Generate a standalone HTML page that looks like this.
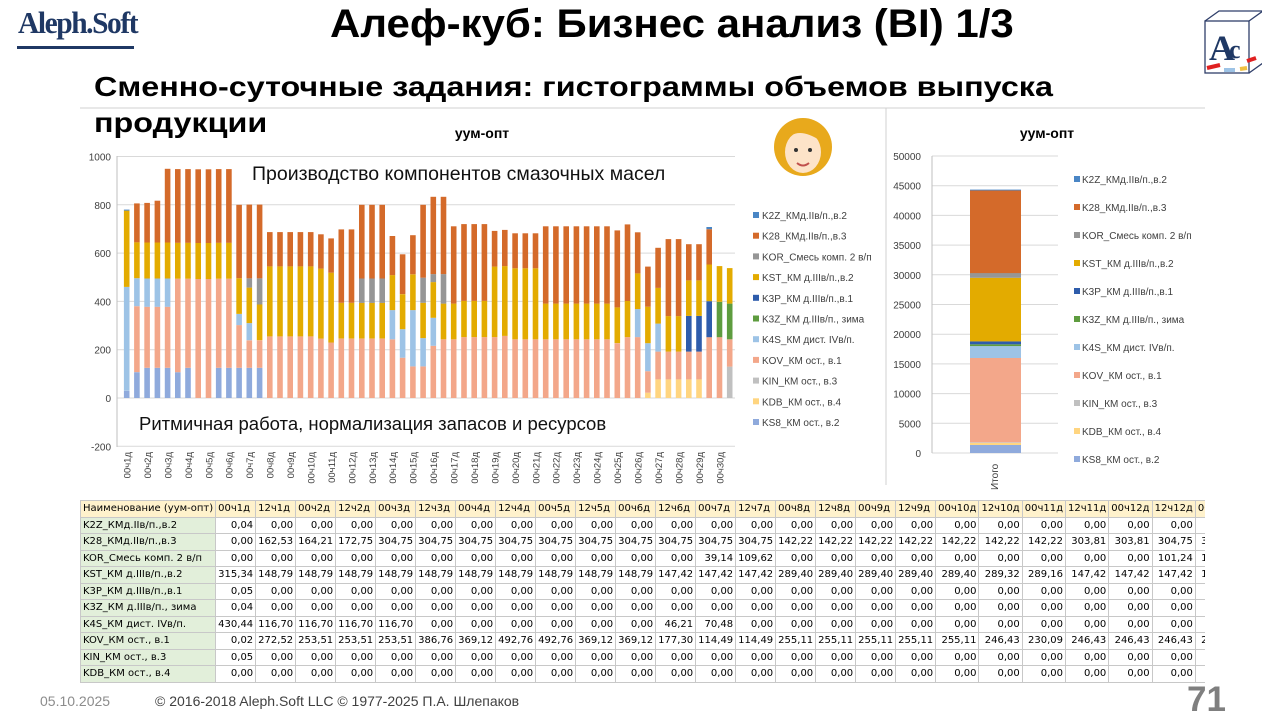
<!DOCTYPE html>
<html><head><meta charset="utf-8">
<style>
body{margin:0;width:1280px;height:720px;overflow:hidden;background:#fff;font-family:"Liberation Sans","DejaVu Sans",sans-serif;position:relative}
.abs{position:absolute;white-space:nowrap}
#tbl{position:absolute;left:80px;top:500px;width:1125px;height:186px;overflow:hidden}
table{border-collapse:collapse;font-family:"DejaVu Sans","Liberation Sans",sans-serif;font-size:10px;table-layout:fixed}
td{height:15.5px;padding:0 2px;border:1px solid #c8c8c8;text-align:right;overflow:hidden;white-space:nowrap;line-height:15px}
td.n{text-align:left;background:#e2efda;width:135px}
tr.h td{background:#fff2cc;text-align:left}
</style></head><body>
<div class="abs" style="left:18px;top:5px;font-family:'Liberation Serif',serif;font-size:31px;color:#1f3864;font-weight:bold;letter-spacing:-1.5px;transform:scaleX(0.95);transform-origin:left">Aleph.Soft</div>
<div class="abs" style="left:17px;top:46px;width:117px;height:3px;background:#1f3864"></div>
<div class="abs" style="left:330px;top:2px;font-size:40px;font-weight:bold;color:#000;transform:scaleX(1.05);transform-origin:left">Алеф-куб: Бизнес анализ (BI) 1/3</div>
<svg class="abs" style="left:1200px;top:8px" width="62" height="70">
<rect x="5" y="13" width="44" height="52" fill="none" stroke="#2f3f6a" stroke-width="1.3"/>
<path d="M5 13 L19 3 L63 3 L49 13 M49 65 L63 55 L63 3" fill="none" stroke="#2f3f6a" stroke-width="1.3"/>
<text x="9" y="52" font-family="Liberation Serif" font-size="36" font-weight="bold" fill="#1f3864">A</text>
<text x="29" y="50" font-family="Liberation Serif" font-size="26" font-weight="bold" fill="#1f3864">c</text>
<path d="M7 60 L20 57 M47 53 L56 50" stroke="#e02020" stroke-width="4"/>
<path d="M24 62 L35 62" stroke="#9dc3e6" stroke-width="4"/><path d="M40 61 L47 60" stroke="#f0c040" stroke-width="4"/>
</svg>
<div class="abs" style="left:94px;top:69px;font-size:28px;font-weight:bold;line-height:36px;color:#000;z-index:2;transform:scaleX(1.154);transform-origin:left">Сменно-суточные задания: гистограммы объемов выпуска<br>продукции</div>
<svg id="ch" class="abs" style="left:0;top:0" width="1280" height="500"></svg>
<div id="tbl"></div>
<div class="abs" style="left:40px;top:693px;font-size:14px;color:#8c8c8c">05.10.2025</div>
<div class="abs" style="left:155px;top:693px;font-size:14px;color:#404040">© 2016-2018 Aleph.Soft LLC © 1977-2025 П.А. Шлепаков</div>
<div class="abs" style="left:1187px;top:680px;font-size:35px;font-weight:bold;color:#7f7f7f">71</div>
<script>
var C=["#8faadc","#ffd580","#c0c0c0","#f3a78a","#9dc3e6","#5e9c3f","#2e5cab","#e3ab00","#969696","#d46a2a","#4a86c5"];
var NM=["KS8_КМ ост., в.2","KDB_КМ ост., в.4","KIN_КМ ост., в.3","KOV_КМ ост., в.1","K4S_КМ дист. IVв/п.","K3Z_КМ д.IIIв/п., зима","K3P_КМ д.IIIв/п.,в.1","KST_КМ д.IIIв/п.,в.2","KOR_Смесь комп. 2 в/п","K28_КМд.IIв/п.,в.3","K2Z_КМд.IIв/п.,в.2"];
var s='';
function R(x,y,w,h,c){s+='<rect x="'+x+'" y="'+y+'" width="'+w+'" height="'+h+'" fill="'+c+'"/>';}
function T(x,y,t,a,fs,ex){s+='<text x="'+x+'" y="'+y+'" font-size="'+fs+'" text-anchor="'+(a||'start')+'" '+(ex||'')+'>'+t+'</text>';}
s+='<line x1="80" y1="108" x2="1205" y2="108" stroke="#d0d0d0"/><line x1="886" y1="108" x2="886" y2="485" stroke="#d0d0d0"/>';
function Y(v){return 398-v*0.2415;}
for(var v=-200;v<=1000;v+=200){s+='<line x1="117" x2="735" y1="'+Y(v)+'" y2="'+Y(v)+'" stroke="#d9d9d9"/>';T(111,Y(v)+4,v,'end',10,'fill="#404040"');}
s+='<line x1="117" x2="117" y1="156" y2="447" stroke="#bfbfbf"/>';
T(482,138,'уум-опт','middle',14,'font-weight="bold"');
var A=[[0,30],[4,460],[7,776],[10,780]],B=[[0,107],[3,380],[4,496],[7,645],[9,806]];
var p1=[[0,125],[3,494],[7,643],[9,948]],p2=[[3,493],[7,642],[9,947]],p3=[[3,255],[7,545],[9,687]],p4=[[3,246],[7,394],[9,698]],p5=[[3,246],[7,394],[8,495],[9,800]],p6=[[3,252],[7,402],[9,720]],p7=[[3,243],[7,537],[9,682]],p8=[[3,243],[7,391],[9,711]],p9=[[1,77],[3,192],[7,339],[9,658]],p10=[[1,77],[3,192],[6,340],[7,487],[9,637]];
var D=[A,B,[[0,125],[3,378],[4,495],[7,644],[9,808]],[[0,125],[3,378],[4,495],[7,644],[9,817]],[[0,125],[3,378],[4,495],[7,644],[9,949]],[[0,107],[3,494],[7,643],[9,948]],p1,p2,p2,p1,p1,
[[0,125],[3,302],[4,348],[7,496],[9,800]],[[0,125],[3,239],[4,310],[7,457],[8,496],[9,801]],[[0,125],[3,239],[7,387],[8,496],[9,801]],
p3,p3,p3,p3,p3,[[3,246],[7,536],[9,678]],[[3,230],[7,519],[9,661]],p4,p4,p5,p5,p5,
[[3,243],[4,364],[7,509],[9,671]],[[3,167],[4,285],[7,430],[9,595]],[[3,131],[4,364],[7,512],[9,674]],[[3,131],[4,248],[7,394],[8,498],[9,800]],[[3,216],[4,332],[7,480],[8,513],[9,833]],[[3,243],[7,391],[8,513],[9,833]],p8,p6,p6,p6,
[[3,252],[7,544],[9,692]],[[3,257],[7,546],[9,696]],p7,p7,p7,p8,p8,p8,p8,p8,p8,p8,[[3,227],[7,375],[9,694]],[[3,252],[7,402],[9,719]],[[3,252],[4,368],[7,516],[9,686]],
[[1,22],[3,111],[4,227],[7,378],[9,544]],[[1,77],[3,192],[4,308],[7,456],[9,622]],p9,p9,p10,p10,[[3,252],[6,401],[7,553],[9,699],[10,708]],[[3,252],[5,398],[7,546]],[[2,130],[3,243],[5,391],[7,538]]];
for(var i=0;i<D.length;i++){var x=126.7+i*10.22-2.8,prev=0;for(var j=0;j<D[i].length;j++){var t=D[i][j][1];R(x.toFixed(1),Y(t).toFixed(1),5.6,((t-prev)*0.2415).toFixed(1),C[D[i][j][0]]);prev=t;}
 if(i%2==0){var d=i/2+1;s+='<text transform="translate('+(x+6.6)+',452) rotate(-90)" font-size="9.5" text-anchor="end" fill="#404040">00ч'+d+'д</text>';}}
T(252,180,'Производство компонентов смазочных масел','start',19.5,'fill="#111"');
T(139,430,'Ритмичная работа, нормализация запасов и ресурсов','start',18.5,'fill="#111"');
for(var k=0;k<11;k++){var yy=216+k*20.7;R(753,yy-4,6,6,C[10-k]);T(762,yy+3,NM[10-k],'start',10,'fill="#404040"');}
s+='<circle cx="803" cy="147" r="29" fill="#e8a91c"/><ellipse cx="803" cy="152" rx="18" ry="21" fill="#fde3c8"/><path d="M785 143 Q795 124 821 141 Q812 128 800 129 Q786 131 785 143Z" fill="#e8a91c"/><circle cx="796" cy="150" r="2" fill="#333"/><circle cx="810" cy="150" r="2" fill="#333"/><path d="M797 163 Q803 168 809 163" stroke="#c0504d" stroke-width="2" fill="none"/>';
function Y2(v){return 453-v*0.00594;}
T(1047,138,'уум-опт','middle',14,'font-weight="bold"');
for(var v=0;v<=50000;v+=5000){s+='<line x1="932" x2="1058" y1="'+Y2(v)+'" y2="'+Y2(v)+'" stroke="#d9d9d9"/>';T(921,Y2(v)+4,v,'end',10,'fill="#404040"');}
s+='<line x1="932" x2="932" y1="156" y2="453" stroke="#bfbfbf"/>';
var S2=[[0,1350],[1,1700],[2,1800],[3,16000],[4,18000],[5,18300],[6,18800],[7,29500],[8,30300],[9,44200],[10,44350]],pv=0;
for(var k=0;k<S2.length;k++){var t=S2[k][1];R(970,Y2(t).toFixed(1),51,((t-pv)*0.00594).toFixed(1),C[S2[k][0]]);pv=t;}
s+='<text transform="translate(998,490) rotate(-90)" font-size="10" fill="#404040">Итого</text>';
for(var k=0;k<11;k++){var yy=180+k*28;R(1074,yy-4,6,6,C[10-k]);T(1082,yy+3,NM[10-k],'start',10,'fill="#404040"');}
document.getElementById('ch').innerHTML=s;
var H=[];for(var d=1;d<=13;d++){H.push('00ч'+d+'д');if(d<13)H.push('12ч'+d+'д');}
function rep(v,n){var a=[];for(var i=0;i<n;i++)a.push(v);return a;}
var z=function(f){return [f].concat(rep('0,00',24));};
var rows=[["K2Z_КМд.IIв/п.,в.2",z('0,04')],
["K28_КМд.IIв/п.,в.3",['0,00','162,53','164,21','172,75'].concat(rep('304,75',10),rep('142,22',7),['303,81','303,81','304,75','304,75'])],
["KOR_Смесь комп. 2 в/п",rep('0,00',12).concat(['39,14','109,62'],rep('0,00',9),['101,24','101,24'])],
["KST_КМ д.IIIв/п.,в.2",['315,34'].concat(rep('148,79',10),rep('147,42',3),rep('289,40',5),['289,32','289,16'],rep('147,42',4))],
["K3P_КМ д.IIIв/п.,в.1",z('0,05')],["K3Z_КМ д.IIIв/п., зима",z('0,04')],
["K4S_КМ дист. IVв/п.",['430,44'].concat(rep('116,70',4),rep('0,00',6),['46,21','70,48'],rep('0,00',12))],
["KOV_КМ ост., в.1",['0,02','272,52','253,51','253,51','253,51','386,76','369,12','492,76','492,76','369,12','369,12','177,30','114,49','114,49'].concat(rep('255,11',5),['246,43','230,09'],rep('246,43',4))],
["KIN_КМ ост., в.3",z('0,05')],["KDB_КМ ост., в.4",rep('0,00',25)]];
var h='<table><tr class="h"><td class="n" style="background:#fff2cc">Наименование (уум-опт)</td>';
H.forEach(function(x){h+='<td style="width:36px">'+x+'</td>';});h+='</tr>';
rows.forEach(function(r){h+='<tr><td class="n">'+r[0]+'</td>';r[1].forEach(function(x){h+='<td>'+x+'</td>';});h+='</tr>';});
document.getElementById('tbl').innerHTML=h+'</table>';
</script>
</body></html>
